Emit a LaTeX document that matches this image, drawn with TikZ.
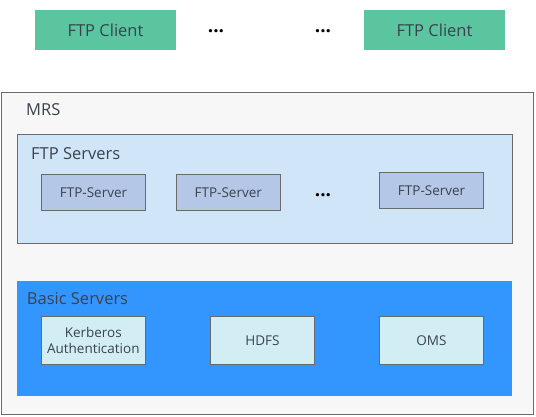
\documentclass[tikz,border=0pt]{standalone}
\usepackage{fontspec}
\setmainfont{Open Sans}
\definecolor{clientgreen}{HTML}{5BC5A0}
\definecolor{txt}{HTML}{3A424D}
\definecolor{outerfill}{HTML}{F7F7F7}
\definecolor{edge}{HTML}{6A6A6A}
\definecolor{ftpfill}{HTML}{D1E5F8}
\definecolor{srvfill}{HTML}{B4C7E7}
\definecolor{basicfill}{HTML}{3396FF}
\definecolor{bfill}{HTML}{D2EEF4}
\begin{document}
\begin{tikzpicture}[x=1pt,y=-1pt,
  client/.style={fill=clientgreen,draw=none,minimum width=141pt,minimum height=40pt,inner sep=0pt,
    text=txt,font=\fontsize{16.5}{18}\selectfont},
  srv/.style={fill=srvfill,draw=edge,line width=1pt,minimum width=104pt,minimum height=36pt,inner sep=0pt,
    text=txt,font=\fontsize{13.5}{15}\selectfont},
  bsrv/.style={fill=bfill,draw=edge,line width=1pt,minimum width=104pt,minimum height=48pt,inner sep=0pt,
    text=txt,font=\fontsize{13.5}{16}\selectfont,align=center},
  grp/.style={draw=edge,line width=1pt},
  title/.style={anchor=base west,inner sep=0pt,text=txt,font=\fontsize{16.5}{18}\selectfont},
  dots/.style={anchor=base,inner sep=0pt,text=black,font=\fontsize{19}{20}\selectfont\bfseries}
]
\useasboundingbox (0,0) rectangle (536,416);
% clients
\node[client] (c1) at (105.5,30.3) {FTP Client};
\node[client] (c2) at (434.5,30.3) {FTP Client};
\node[dots] (d1) at (216,32) {...};
\node[dots] (d2) at (323,32) {...};
% MRS
\draw[grp,fill=outerfill] (1,92.5) rectangle (533,414.5);
\node[title] (mrs) at (26,115) {MRS};
% FTP servers
\draw[grp,fill=ftpfill] (17,134) rectangle (512.5,243);
\node[title] (ftps) at (31,159) {FTP Servers};
\node[srv] (s1) at (93.5,192.3) {FTP-Server};
\node[srv] (s2) at (228.3,192.3) {FTP-Server};
\node[srv] (s3) at (431.6,190.3) {FTP-Server};
\node[dots] (d3) at (323,196) {...};
% Basic servers
\fill[basicfill] (17,281) rectangle (511.7,395.7);
\node[title] (bs) at (26.7,304) {Basic Servers};
\node[bsrv] (k) at (93.3,340.5) {Kerberos\\Authentication};
\node[bsrv] (h) at (262.5,340.3) {HDFS};
\node[bsrv] (o) at (431.5,340.3) {OMS};
\end{tikzpicture}
\end{document}
